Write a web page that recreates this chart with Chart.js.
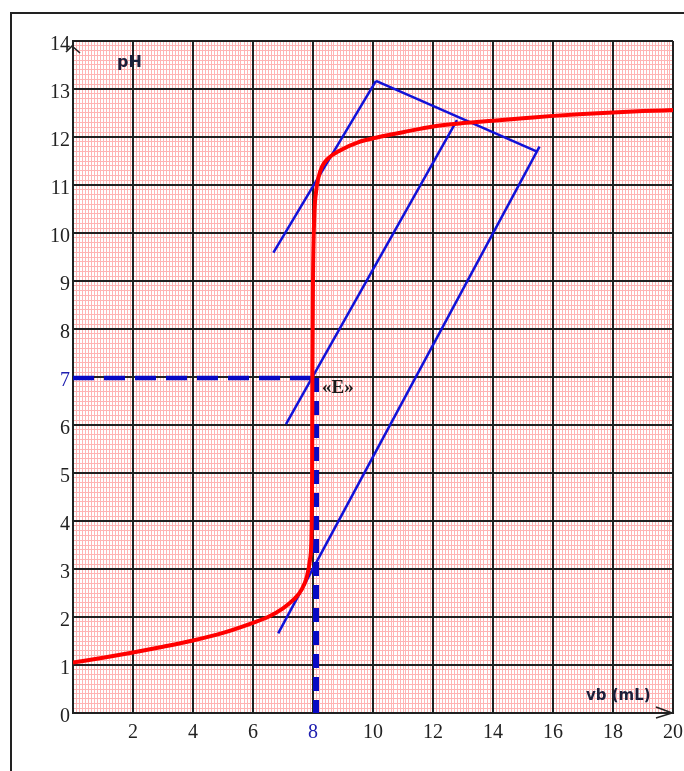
<!DOCTYPE html>
<html>
<head>
<meta charset="utf-8">
<script src="https://cdn.jsdelivr.net/npm/chart.js@4.4.1/dist/chart.umd.min.js"></script>
<style>
  html, body { margin: 0; padding: 0; background: #fff; overflow: hidden; }
  #wrap { position: relative; width: 684px; height: 771px; }
  #frame { position: absolute; left: 10px; top: 12px; width: 800px; height: 900px;
           border-left: 2px solid #222; border-top: 2px solid #222; }
  #c { position: absolute; left: 0; top: 0; }
</style>
</head>
<body>
<div id="wrap"><div id="frame"></div><canvas id="c" width="684" height="771"></canvas></div>
<script>
// titration curve pH = f(vb)
const vb = [0, 1, 2, 3, 4, 5, 6, 6.5, 7, 7.35, 7.6, 7.8, 7.9, 7.95, 7.97, 7.98, 8.0, 8.04, 8.1, 8.18, 8.3, 8.5, 8.9, 9.5, 10.2, 11, 12, 13, 14, 15, 16, 17, 18, 19, 20];
const pH = [1.05, 1.15, 1.26, 1.38, 1.51, 1.67, 1.88, 2.0, 2.18, 2.36, 2.55, 2.85, 3.2, 3.7, 5.0, 7.0, 9.0, 10.3, 10.85, 11.15, 11.38, 11.55, 11.72, 11.89, 12.0, 12.1, 12.22, 12.29, 12.34, 12.39, 12.44, 12.48, 12.51, 12.54, 12.56];

// parallel tangents method
const tanUpX = [6.68, 10.1],  tanUpY = [9.59, 13.17];
const tanMidX = [7.1, 12.8],  tanMidY = [6.02, 12.35];
const tanLowX = [6.84, 15.55], tanLowY = [1.66, 11.8];
const perpX = [10.1, 15.45],  perpY = [13.17, 11.7];

// equivalence point E (dashed guides)
const eqVb = 8.1, eqPH = 6.98;

// axes
const xMax = 20, yMax = 14;
const xTickStep = 2, yTickStep = 1;
const blueTicks = { x: [8], y: [7] };

const pts = (xs, ys) => xs.map((x, i) => ({ x: x, y: ys[i] }));

const blue = '#1212d8';
const dashBlue = '#0808c4';
const ink = '#1c1f3a';

const onMajor = (v, step) => Math.abs(v / step - Math.round(v / step)) < 1e-6;

const extras = {
  id: 'extras',
  afterDatasetsDraw(chart) {
    const ctx = chart.ctx;
    const x = chart.scales.x, y = chart.scales.y;
    ctx.save();
    // axis arrows
    ctx.strokeStyle = '#222';
    ctx.lineWidth = 1.6;
    const ax = x.getPixelForValue(0), ay = y.getPixelForValue(yMax);
    ctx.beginPath();
    ctx.moveTo(ax - 7, ay + 11); ctx.lineTo(ax - 1, ay + 5); ctx.lineTo(ax + 7, ay + 12);
    ctx.stroke();
    const bx = x.getPixelForValue(xMax), by = y.getPixelForValue(0);
    ctx.beginPath();
    ctx.moveTo(bx - 17, by - 6); ctx.lineTo(bx - 1, by); ctx.lineTo(bx - 17, by + 5);
    ctx.stroke();
    // labels
    ctx.fillStyle = ink;
    ctx.textBaseline = 'middle';
    ctx.textAlign = 'left';
    ctx.font = 'bold 16px "DejaVu Sans"';
    ctx.fillText('pH', x.getPixelForValue(1.47), y.getPixelForValue(13.55));
    ctx.font = 'bold 15px "DejaVu Sans"';
    ctx.fillText('vb (mL)', x.getPixelForValue(17.1), y.getPixelForValue(0.35));
    ctx.fillStyle = '#1a1a1a';
    ctx.font = 'bold 19px "Liberation Serif"';
    ctx.fillText('«E»', x.getPixelForValue(8.3), y.getPixelForValue(6.77));
    ctx.restore();
  }
};

const lineDs = (data, color, width, extra) => Object.assign({
  data: data, showLine: true, borderColor: color, borderWidth: width,
  pointRadius: 0, fill: false, xAxisID: 'x', yAxisID: 'y'
}, extra || {});

new Chart(document.getElementById('c'), {
  type: 'scatter',
  data: {
    datasets: [
      lineDs(pts(vb, pH), '#ff0000', 4, { cubicInterpolationMode: 'monotone' }),
      lineDs([{ x: 0, y: eqPH }, { x: eqVb + 0.1, y: eqPH }], dashBlue, 4.5, { borderDash: [21, 10], borderCapStyle: 'butt' }),
      lineDs([{ x: eqVb, y: eqPH }, { x: eqVb, y: 0 }], dashBlue, 6, { borderDash: [14, 9], borderCapStyle: 'butt' }),
      lineDs(pts(tanUpX, tanUpY), blue, 2.5),
      lineDs(pts(tanMidX, tanMidY), blue, 2.5),
      lineDs(pts(tanLowX, tanLowY), blue, 2.5),
      lineDs(pts(perpX, perpY), blue, 2.5)
    ]
  },
  options: {
    responsive: false,
    animation: false,
    layout: { padding: { top: 41, right: 11, bottom: 0, left: 0 } },
    plugins: { legend: { display: false }, tooltip: { enabled: false } },
    scales: {
      xMinor: {
        type: 'linear', position: 'bottom', min: 0, max: xMax,
        ticks: { display: false, stepSize: 0.1, autoSkip: false, maxTicksLimit: 1000 },
        grid: { color: '#ffb4b4', lineWidth: 1, drawTicks: false, z: -2 },
        border: { display: false },
        afterFit(s) { s.height = 0; s.paddingLeft = 0; s.paddingRight = 0; }
      },
      yMinor: {
        type: 'linear', position: 'left', min: 0, max: yMax,
        ticks: { display: false, stepSize: 0.1, autoSkip: false, maxTicksLimit: 1000 },
        grid: { color: '#ffb4b4', lineWidth: 1, drawTicks: false, z: -2 },
        border: { display: false },
        afterFit(s) { s.width = 0; s.paddingTop = 0; s.paddingBottom = 0; }
      },
      x: {
        type: 'linear', position: 'bottom', min: 0, max: xMax,
        ticks: {
          stepSize: xTickStep, autoSkip: false, maxRotation: 0, padding: 8,
          font: { family: '"Liberation Serif"', size: 20 },
          color: c => blueTicks.x.includes(c.tick.value) ? '#2020b0' : '#222',
          callback: v => (v === 0 ? '' : String(v))
        },
        grid: { color: '#222', lineWidth: 2, drawTicks: false, z: -1 },
        border: { color: '#222', width: 2, z: -1 },
        afterFit(s) { s.height = 58; s.paddingLeft = 0; s.paddingRight = 0; }
      },
      y: {
        type: 'linear', position: 'left', min: 0, max: yMax,
        ticks: {
          stepSize: yTickStep, autoSkip: false, padding: 3, labelOffset: 4,
          font: { family: '"Liberation Serif"', size: 20 },
          color: c => blueTicks.y.includes(c.tick.value) ? '#2020b0' : '#222',
          callback: v => (onMajor(v, yTickStep) ? String(v) : '')
        },
        grid: { color: '#222', lineWidth: 2, drawTicks: false, z: -1 },
        border: { color: '#222', width: 2, z: -1 },
        afterFit(s) { s.width = 73; s.paddingTop = 0; s.paddingBottom = 0; }
      }
    }
  },
  plugins: [extras]
});
</script>
</body>
</html>
